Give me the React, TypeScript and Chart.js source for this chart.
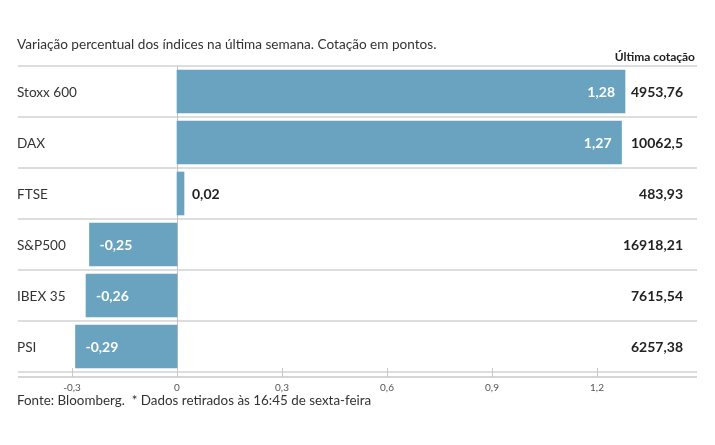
import React, { useEffect, useRef } from "react";
import { Chart, registerables } from "chart.js";

Chart.register(...registerables);

const categories = ["Stoxx 600", "DAX", "FTSE", "S&P500", "IBEX 35", "PSI"];
const changes = [1.28, 1.27, 0.02, -0.25, -0.26, -0.29];
const quotes = ["4953,76", "10062,5", "483,93", "16918,21", "7615,54", "6257,38"];
const tickValues = [-0.3, 0, 0.3, 0.6, 0.9, 1.2];
const xMin = -0.4543;
const xMax = 1.4857;

const TITLE = "Variação percentual dos índices na última semana. Cotação em pontos.";
const COLUMN_HEADER = "Última cotação";
const FOOTER = "Fonte: Bloomberg.  * Dados retirados às 16:45 de sexta-feira";

const FONT = "Lato, 'Open Sans', sans-serif";
const BAR_COLOR = "#69a3bf";
const TEXT_DARK = "#222222";

const fmt = (v: number, d: number) => (v === 0 ? "0" : v.toFixed(d).replace(".", ","));

const overlayPlugin = {
  id: "overlay",
  beforeDatasetsDraw(chart: any) {
    const { ctx, chartArea } = chart;
    const x = chart.scales.x;
    const axisY = chartArea.bottom + 5;
    ctx.save();
    const x0 = Math.round(x.getPixelForValue(0)) + 0.5;
    ctx.strokeStyle = "#c4c4c4";
    ctx.lineWidth = 1;
    ctx.beginPath();
    ctx.moveTo(x0, chartArea.top);
    ctx.lineTo(x0, axisY);
    ctx.stroke();
    ctx.restore();
  },
  afterDraw(chart: any) {
    const { ctx, chartArea } = chart;
    const x = chart.scales.x;
    const axisY = chartArea.bottom + 5;
    ctx.save();
    ctx.strokeStyle = "#d6d6d6";
    ctx.lineWidth = 2;
    ctx.beginPath();
    ctx.moveTo(chartArea.left, axisY);
    ctx.lineTo(chartArea.right, axisY);
    ctx.stroke();
    ctx.strokeStyle = "#c8c8c8";
    ctx.lineWidth = 1;
    tickValues.forEach((t) => {
      const px = Math.round(x.getPixelForValue(t)) + 0.5;
      ctx.beginPath();
      ctx.moveTo(px, axisY - 9);
      ctx.lineTo(px, axisY);
      ctx.stroke();
    });

    ctx.fillStyle = "#333333";
    ctx.textBaseline = "middle";
    ctx.textAlign = "left";
    ctx.font = `13.6px ${FONT}`;
    ctx.fillText(TITLE, 17, 45);
    ctx.font = `13.4px ${FONT}`;
    ctx.fillText(FOOTER, 17, 401);
    ctx.font = `bold 12px ${FONT}`;
    ctx.textAlign = "right";
    ctx.fillStyle = TEXT_DARK;
    ctx.fillText(COLUMN_HEADER, 695, 57);

    const meta = chart.getDatasetMeta(0);
    meta.data.forEach((bar: any, i: number) => {
      const y = bar.y + 1;
      ctx.font = `13.6px ${FONT}`;
      ctx.fillStyle = "#333333";
      ctx.textAlign = "left";
      ctx.fillText(categories[i], 17, y);
      ctx.font = `bold 14px ${FONT}`;
      ctx.fillStyle = TEXT_DARK;
      ctx.textAlign = "right";
      ctx.fillText(quotes[i], 683, y);
      const v = changes[i];
      const label = fmt(v, 2);
      ctx.font = `bold 14px ${FONT}`;
      const w = ctx.measureText(label).width;
      const barLen = Math.abs(bar.x - bar.base);
      if (v >= 0) {
        if (barLen > w + 20) {
          ctx.fillStyle = "#ffffff";
          ctx.textAlign = "right";
          ctx.fillText(label, bar.x - 10, y);
        } else {
          ctx.fillStyle = TEXT_DARK;
          ctx.textAlign = "left";
          ctx.fillText(label, bar.x + 8, y);
        }
      } else {
        ctx.fillStyle = "#ffffff";
        ctx.textAlign = "left";
        ctx.fillText(label, bar.x + 10, y);
      }
    });
    ctx.restore();
  },
};

export default function App() {
  const canvasRef = useRef<HTMLCanvasElement | null>(null);

  useEffect(() => {
    document.body.style.margin = "0";
    const canvas = canvasRef.current;
    if (!canvas) return;
    const chart = new Chart(canvas, {
      type: "bar",
      data: {
        labels: categories,
        datasets: [
          {
            data: changes,
            backgroundColor: BAR_COLOR,
            borderWidth: 0,
            barThickness: 43,
          },
        ],
      },
      options: {
        indexAxis: "y",
        responsive: false,
        animation: false,
        devicePixelRatio: 1,
        layout: { padding: { left: 18, right: 18, top: 66, bottom: 0 } },
        plugins: {
          legend: { display: false },
          tooltip: { enabled: false },
          title: { display: false },
        },
        scales: {
          x: {
            type: "linear",
            min: xMin,
            max: xMax,
            afterBuildTicks: (scale: any) => {
              scale.ticks = tickValues.map((v) => ({ value: v }));
            },
            afterFit: (scale: any) => {
              scale.height = 73;
            },
            grid: { display: false },
            border: { display: false },
            ticks: {
              padding: 2,
              color: "#555555",
              font: { family: FONT, size: 10 },
              maxRotation: 0,
              autoSkip: false,
              callback: (v: any) => fmt(Number(v), 1),
            },
          },
          y: {
            type: "category",
            afterFit: (scale: any) => {
              scale.width = 0;
            },
            ticks: { display: false },
            border: { display: false },
            grid: {
              offset: true,
              drawTicks: false,
              lineWidth: 2,
              color: (c: any) => (c.index >= categories.length ? "rgba(0,0,0,0)" : "#dddddd"),
            },
          },
        },
      },
      plugins: [overlayPlugin],
    });
    return () => chart.destroy();
  }, []);

  return (
    <div style={{ position: "relative", width: 715, height: 445, background: "#fff" }}>
      <canvas ref={canvasRef} width={715} height={445} style={{ display: "block" }} />
    </div>
  );
}
